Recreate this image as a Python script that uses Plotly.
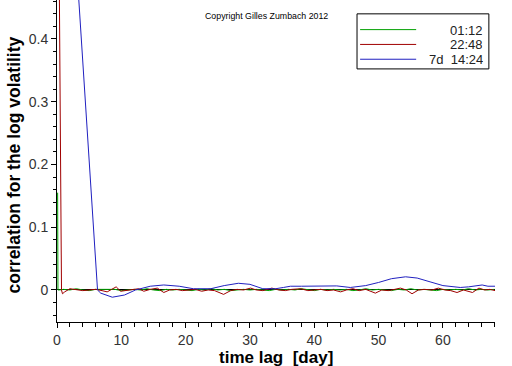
import plotly.graph_objects as go

# ---- data ----
green_lag = [0.1, 0.15, 0.3, 1, 2, 3, 4, 5, 6, 7, 8, 9, 10, 11, 12, 13, 14, 15, 16, 17, 18, 19, 20,
             21, 22, 23, 24, 25, 26, 27, 28, 29, 30, 31, 32, 33, 34, 35, 36, 37, 38, 39, 40,
             41, 42, 43, 44, 45, 46, 47, 48, 49, 50, 51, 52, 53, 54, 55, 56, 57, 58, 59, 60,
             61, 62, 63, 64, 65, 66, 67, 68]
green_val = [0.155, 0.0, 0.0, 0.001, 0.0, 0.002, 0.0, -0.001, 0.001, 0.001, 0.0, 0.001, -0.001, 0.0, 0.001, 0.0,
             0.002, 0.0, -0.001, 0.001, 0.0, 0.001, 0.0, -0.001, 0.001, 0.0, 0.002, 0.0, 0.001, -0.001,
             0.0, 0.001, 0.0, 0.001, 0.0, -0.001, 0.001, 0.0, 0.001, 0.0, 0.002, 0.0, -0.001, 0.001,
             0.0, 0.001, 0.0, 0.001, -0.001, 0.0, 0.002, 0.0, 0.001, 0.0, -0.001, 0.001, 0.0, 0.002,
             0.0, 0.001, 0.0, -0.001, 0.001, 0.0, 0.001, 0.0, 0.002, 0.0, 0.001, 0.0, 0.001]

red_lag = [0, 0.4, 0.55, 0.7, 0.85, 1.2, 2.0, 3, 4, 5, 6, 7, 7.8, 8.5, 9.2, 9.9, 11, 12, 12.7, 13.5,
           14.5, 15.6, 16.6, 17.5, 18.5, 19.5, 20.5, 21.5, 22.5, 23.5, 24.5, 25.9, 27, 28, 29,
           30.1, 31, 32, 33.4, 34.5, 35.5, 36.5, 37.9, 39, 40, 41, 42, 43, 44.1, 45, 46, 47, 48,
           49.5, 50.5, 51.5, 52.5, 53.4, 54.3, 55.2, 56.2, 57.2, 58.3, 59.3, 60.3, 61.2, 62.2,
           63.2, 64.6, 65.6, 66.5, 67.3, 68.1]
red_val = [1.0, 0.33, 0.14, 0.0, -0.006, -0.003, 0.002, 0.001, -0.001, 0.0, 0.001, -0.001, -0.003,
           0.001, 0.005, -0.002, 0.0, 0.001, 0.002, -0.002, 0.001, 0.003, -0.004, 0.0, 0.001,
           -0.001, 0.0, 0.001, -0.002, 0.0, -0.001, -0.007, -0.001, 0.001, 0.0, 0.003, 0.0,
           -0.001, 0.003, 0.0, -0.001, 0.001, 0.002, -0.001, 0.0, 0.001, -0.001, 0.0, -0.003,
           0.0, 0.002, -0.001, 0.001, -0.005, 0.0, -0.001, 0.001, 0.003, 0.0, -0.006, 0.0,
           0.001, 0.0, 0.003, 0.0, -0.001, -0.004, 0.0, -0.004, 0.003, 0.0, 0.001, -0.001]

blue_lag = [0, 6.3, 6.8, 8.6, 10.5, 12.2, 14.5, 16.6, 19, 21.2, 23.9, 26, 28.2, 30, 32, 34,
            35.2, 36.3, 38, 40, 42, 43.5, 45.6, 48, 50, 52, 54.2, 56, 58, 60, 62.7, 64, 66.1,
            67, 68.1]
blue_val = [1.0, 0.0, -0.005, -0.0115, -0.008, 0.0, 0.006, 0.008, 0.006, 0.002, 0.002, 0.007,
            0.0107, 0.009, 0.002, 0.002, 0.004, 0.006, 0.006, 0.0065, 0.006, 0.0065, 0.004,
            0.007, 0.012, 0.018, 0.021, 0.019, 0.013, 0.007, 0.004, 0.005, 0.008, 0.006, 0.006]

series_names = ["01:12", "22:48", "7d  14:24"]
series_colors = ["#00a000", "#a00000", "#2020c0"]

x_ticks = [0, 10, 20, 30, 40, 50, 60]
y_ticks = [0, 0.1, 0.2, 0.3, 0.4]

FONT = "Liberation Sans, Arial, sans-serif"

fig = go.Figure()
for lag, val, name, col in [(green_lag, green_val, series_names[0], series_colors[0]),
                            (red_lag, red_val, series_names[1], series_colors[1]),
                            (blue_lag, blue_val, series_names[2], series_colors[2])]:
    fig.add_trace(go.Scatter(x=lag, y=val, mode="lines", name=name,
                             line=dict(color=col, width=1), showlegend=False))

# manual legend (right-aligned text like the original)
lx0, lx1, ly0, ly1 = 0.685, 0.986, 0.786, 0.957
fig.add_shape(type="rect", xref="paper", yref="paper", x0=lx0, x1=lx1, y0=ly0, y1=ly1,
              line=dict(color="black", width=1), fillcolor="white", layer="above")
rows = [0.908, 0.862, 0.816]
for name, col, ry in zip(series_names, series_colors, rows):
    fig.add_shape(type="line", xref="paper", yref="paper", x0=0.692, x1=0.820, y0=ry, y1=ry,
                  line=dict(color=col, width=1), layer="above")
    fig.add_annotation(xref="paper", yref="paper", x=0.975, y=ry, text=name, showarrow=False,
                       xanchor="right", yanchor="middle", height=14, borderpad=0,
                       font=dict(family=FONT, size=13, color="#222"))

fig.add_annotation(xref="paper", yref="paper", x=0.478, y=0.950, text="Copyright Gilles Zumbach 2012",
                   xanchor="center", yanchor="middle",
                   showarrow=False, font=dict(family=FONT, size=8.8, color="black"))
fig.add_annotation(xref="paper", yref="paper", x=-0.0992, y=0.488,
                   text="<b>correlation for the log volatility</b>",
                   xanchor="center", yanchor="middle",
                   textangle=-90, showarrow=False, font=dict(family=FONT, size=17.5, color="black"))
fig.add_annotation(xref="paper", yref="paper", x=0.5006, y=-0.110, text="<b>time lag  [day]</b>",
                   xanchor="center", yanchor="middle",
                   showarrow=False, font=dict(family=FONT, size=17, color="black"))

fig.update_layout(
    width=512, height=366,
    margin=dict(l=57, r=17, t=0, b=44),
    paper_bgcolor="white", plot_bgcolor="white",
    font=dict(family=FONT, size=13, color="#222"),
    xaxis=dict(range=[0, 68.1], tickvals=x_ticks, showgrid=False, zeroline=False,
               showline=True, linecolor="black", linewidth=1, ticks="outside", ticklen=5,
               tickcolor="black", tickfont=dict(size=14, color="#333"),
               minor=dict(dtick=2, tick0=0, ticks="outside", ticklen=4, tickcolor="black")),
    yaxis=dict(range=[-0.051, 0.462], tickvals=y_ticks, ticktext=["0", "0.1", "0.2", "0.3", "0.4"],
               showgrid=False, zeroline=True, zerolinecolor="black", zerolinewidth=1,
               showline=True, linecolor="black", linewidth=1, ticks="outside", ticklen=5,
               tickcolor="black", tickfont=dict(size=14, color="#333"),
               minor=dict(dtick=0.02, tick0=0, ticks="outside", ticklen=3, tickcolor="black")),
)

fig.write_html("out.html", config={"displayModeBar": False},
               post_script="document.body.style.margin='0px';document.body.style.overflow='hidden';")
